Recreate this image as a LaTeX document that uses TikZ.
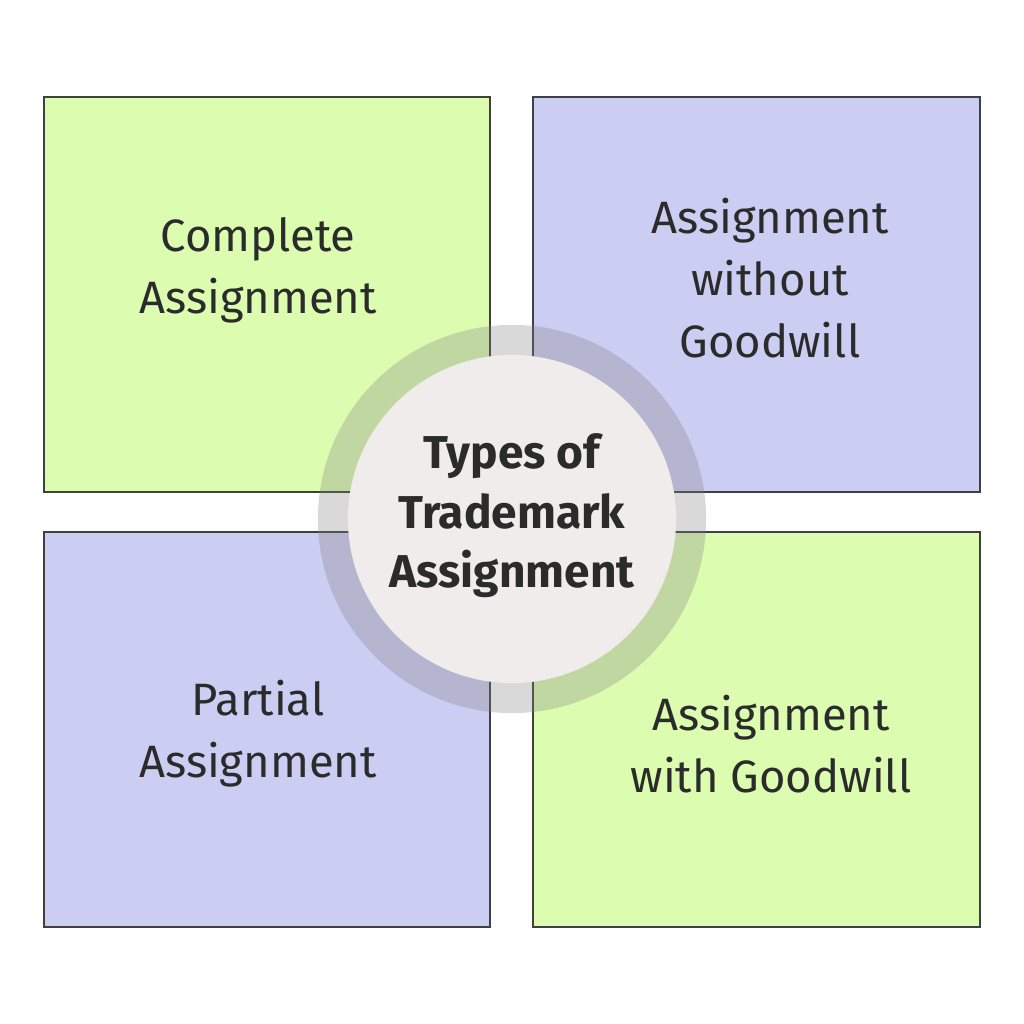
\documentclass[tikz,border=0pt]{standalone}
\usepackage{fontspec}
\setmainfont{Fira Sans}
\usepackage{xcolor}

\definecolor{leafgreen}{RGB}{220,253,176}
\definecolor{lilac}{RGB}{204,205,243}
\definecolor{ringgray}{RGB}{128,128,128}
\definecolor{corefill}{RGB}{239,236,235}
\definecolor{inkgray}{RGB}{43,43,43}

\tikzset{
  quadbox/.style={draw=inkgray!90,line width=0.5pt,minimum width=4.46cm,minimum height=3.95cm,inner sep=0pt},
  quadtext/.style={text=inkgray,align=center,font=\fontsize{12.9}{17.6}\selectfont},
  coretext/.style={text=inkgray,align=center,font=\bfseries\fontsize{13.1}{16.9}\selectfont}
}

\begin{document}
\begin{tikzpicture}[x=0.01cm,y=-0.01cm]
\useasboundingbox (0,0) rectangle (1024,1024);

% four boxes
\node[quadbox,fill=leafgreen] (tlbox) at (267,294.5) {};
\node[quadbox,fill=lilac] (trbox) at (756.5,294.5) {};
\node[quadbox,fill=lilac] (blbox) at (267,729.5) {};
\node[quadbox,fill=leafgreen] (brbox) at (756.5,729.5) {};

% ring and core
\fill[ringgray,fill opacity=0.3] (512,519) circle [radius=1.94cm];
\node[circle,fill=corefill,minimum size=3.28cm,inner sep=0pt] (core) at (512,519) {};

\node[coretext] (coretxt) at (512,516) {Types of\\Trademark\\Assignment};

\node[quadtext] (tltxt) at (258,270) {Complete\\Assignment};
\node[quadtext] (trtxt) at (770,278) {Assignment\\without\\Goodwill};
\node[quadtext] (bltxt) at (258,734) {Partial\\Assignment};
\node[quadtext] (brtxt) at (771,744) {Assignment\\with Goodwill};
\end{tikzpicture}
\end{document}
